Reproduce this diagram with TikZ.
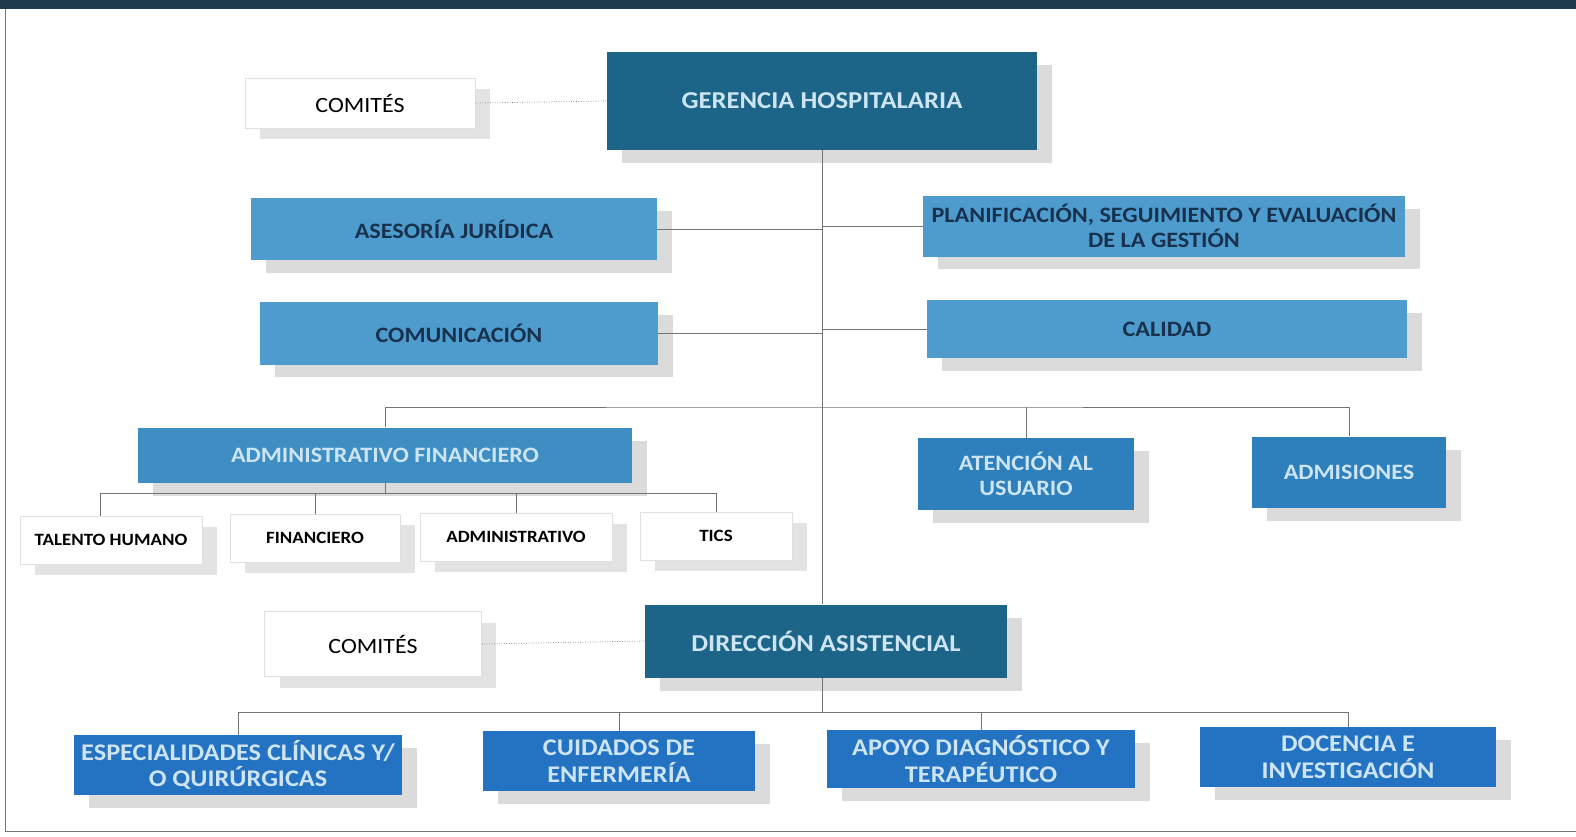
\documentclass[tikz,border=0pt]{standalone}
\usepackage{fontspec}
\setmainfont[FakeStretch=1.1]{Carlito}
\usetikzlibrary{positioning,shadows,calc}
\definecolor{hospTeal}{RGB}{29,101,136}
\definecolor{hospSky}{RGB}{78,155,205}
\definecolor{hospMid}{RGB}{62,142,196}
\definecolor{hospBlue}{RGB}{46,128,189}
\definecolor{hospDeep}{RGB}{36,114,194}
\definecolor{hospInk}{RGB}{24,50,78}
\definecolor{hospPale}{RGB}{205,228,243}
\definecolor{hospBand}{RGB}{30,58,76}

\begin{document}
\begin{tikzpicture}[x=0.02cm, y=-0.02cm,
        unit/.style={rectangle, fill=#1, inner sep=2pt, align=center, text=hospPale, font=\fontsize{12.5}{14.2}\selectfont\bfseries,
            drop shadow={shadow xshift=0.3cm, shadow yshift=-0.26cm, fill=black!14, opacity=1}},
        staff/.style={unit=hospSky, text=hospInk},
        chief/.style={unit=hospTeal, font=\fontsize{13.8}{16}\selectfont\bfseries},
        care/.style={unit=hospDeep, font=\fontsize{13.6}{15.3}\selectfont\bfseries},
        whitebox/.style={rectangle, fill=white, draw=black!12, inner sep=2pt, align=center, text=black,
            drop shadow={shadow xshift=0.3cm, shadow yshift=-0.22cm, fill=black!11, opacity=1}},
        office/.style={whitebox, minimum height=0.96cm, font=\fontsize{9.8}{12}\selectfont\bfseries},
        link/.style={draw=black!55, thin},
        dots/.style={draw=black!55, densely dotted, thin}
    ]
        \useasboundingbox (0,0) rectangle (1576,836);
        % frame
        \fill[hospBand] (0,0) rectangle (1576,9);
        \draw[black!55] (5,9) -- (5,831) -- (1576,831);

        % top level
        \node[chief, minimum width=8.6cm, minimum height=1.96cm] (ger) at (822,101) {GERENCIA HOSPITALARIA};
        \node[whitebox, minimum width=4.6cm, minimum height=1cm, font=\fontsize{12.4}{15}\selectfont] (com1) at (360,103) {COMITÉS};

        % staff units
        \node[staff, minimum width=8.12cm, minimum height=1.24cm] (ase) at (454,229) {ASESORÍA JURÍDICA};
        \node[staff, minimum width=9.64cm, minimum height=1.22cm] (pla) at (1164,226) {PLANIFICACIÓN, SEGUIMIENTO Y EVALUACIÓN\\DE LA GESTIÓN};
        \node[staff, minimum width=7.96cm, minimum height=1.26cm] (comu) at (459,333) {COMUNICACIÓN};
        \node[staff, minimum width=9.6cm, minimum height=1.16cm] (cal) at (1167,329) {CALIDAD};

        % second level
        \node[unit=hospMid, minimum width=9.88cm, minimum height=1.1cm] (adm) at (385,455) {ADMINISTRATIVO FINANCIERO};
        \node[unit=hospBlue, minimum width=4.32cm, minimum height=1.44cm] (ate) at (1026,474) {ATENCIÓN AL\\USUARIO};
        \node[unit=hospBlue, minimum width=3.88cm, minimum height=1.42cm] (adi) at (1349,472) {ADMISIONES};

        \node[office, minimum width=3.64cm] (th) at (111,540) {TALENTO HUMANO};
        \node[office, minimum width=3.4cm] (fin) at (315,538) {FINANCIERO};
        \node[office, minimum width=3.84cm] (adv) at (516,537) {ADMINISTRATIVO};
        \node[office, minimum width=3.04cm] (tic) at (716,536) {TICS};

        % care direction
        \node[chief, minimum width=7.24cm, minimum height=1.46cm] (dir) at (826,641) {DIRECCIÓN ASISTENCIAL};
        \node[whitebox, minimum width=4.34cm, minimum height=1.3cm, font=\fontsize{12.4}{15}\selectfont] (com2) at (373,644) {COMITÉS};

        \node[care, minimum width=6.58cm, minimum height=1.2cm] (esp) at (238,765) {ESPECIALIDADES CLÍNICAS Y/\\O QUIRÚRGICAS};
        \node[care, minimum width=5.46cm, minimum height=1.2cm] (cui) at (619,761) {CUIDADOS DE\\ENFERMERÍA};
        \node[care, minimum width=6.18cm, minimum height=1.16cm] (apo) at (981,759) {APOYO DIAGNÓSTICO Y\\TERAPÉUTICO};
        \node[care, minimum width=5.92cm, minimum height=1.2cm] (doc) at (1348,757) {DOCENCIA E\\INVESTIGACIÓN};

        % connectors
        \coordinate (b1) at (822,407);
        \coordinate (b2) at (385,493);
        \coordinate (b3) at (822,712);
        \draw[link] (ger.south) -- (ger.south |- dir.north);
        \draw[link] (ase.east) -- (ase.east -| ger.south);
        \draw[link] (pla.west) -- (pla.west -| ger.south);
        \draw[link] (comu.east) -- (comu.east -| ger.south);
        \draw[link] (cal.west) -- (cal.west -| ger.south);
        \draw[dots] (com1.east) -- (ger.west);
        \draw[dots] (com2.east) -- (dir.west);

        \draw[link] (adm.north) |- (b1) -| (adi.north);
        \draw[link] (ate.north) -- (ate.north |- b1);
        \draw[link] (adm.south) -- (b2);
        \draw[link] ([xshift=-0.22cm]th.north) |- (b2) -| (tic.north);
        \draw[link] (fin.north) -- (fin.north |- b2);
        \draw[link] (adv.north) -- (adv.north |- b2);

        \draw[link] (b3 |- dir.south) -- (b3);
        \draw[link] (esp.north) |- (b3) -| (doc.north);
        \draw[link] (cui.north) -- (cui.north |- b3);
        \draw[link] (apo.north) -- (apo.north |- b3);
    \end{tikzpicture}
\end{document}
